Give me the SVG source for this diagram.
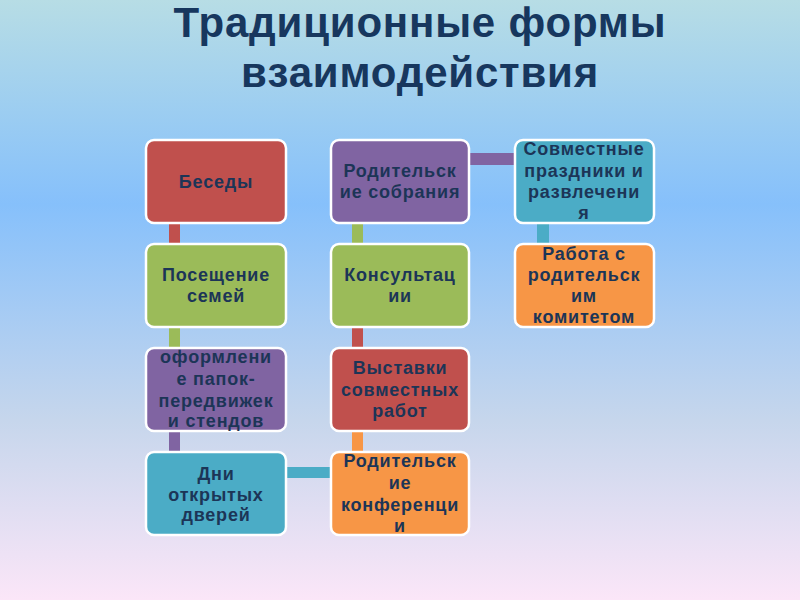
<svg xmlns="http://www.w3.org/2000/svg" width="800" height="600" viewBox="0 0 800 600">
<defs>
<linearGradient id="bg" x1="0" y1="0" x2="0" y2="1">
<stop offset="0" stop-color="#b7dde5"/>
<stop offset="0.34" stop-color="#86c0fb"/>
<stop offset="0.7" stop-color="#c6d6ec"/>
<stop offset="1" stop-color="#fbe6f8"/>
</linearGradient>
<style>
.box{stroke:#ffffff;stroke-width:2.5}
.t{font-family:"Liberation Sans",Arial,sans-serif;font-weight:bold;font-size:18px;fill:#1c3557;text-anchor:middle;letter-spacing:0.8px}
.title{font-family:"Liberation Sans",Arial,sans-serif;font-weight:bold;font-size:42px;fill:#17375e;text-anchor:middle;letter-spacing:0.8px}
.red{fill:#c0504d}.green{fill:#9bbb59}.purple{fill:#8064a2}.teal{fill:#4bacc6}.orange{fill:#f79646}
</style>
</defs>
<rect width="800" height="600" fill="url(#bg)"/>
<g id="title">
<text class="title" x="420" y="37">Традиционные формы</text>
<text class="title" x="420" y="87">взаимодействия</text>
</g>
<g id="connectors">
<rect class="red" x="169" y="222" width="11" height="23"/>
<rect class="green" x="169" y="326" width="11" height="23"/>
<rect class="purple" x="169" y="430" width="11" height="23"/>
<rect class="teal" x="284" y="467" width="48" height="11"/>
<rect class="orange" x="352" y="430" width="11" height="23"/>
<rect class="red" x="352" y="326" width="11" height="23"/>
<rect class="green" x="352" y="222" width="11" height="23"/>
<rect class="purple" x="468" y="153" width="48" height="12"/>
<rect class="teal" x="537" y="222" width="12" height="23"/>
</g>
<g id="n1"><rect class="box red" x="146" y="140" width="140" height="83" rx="8"/>
<text class="t" x="216" y="188">Беседы</text></g>
<g id="n2"><rect class="box green" x="146" y="244" width="140" height="83" rx="8"/>
<text class="t" x="216" y="281">Посещение</text><text class="t" x="216" y="302">семей</text></g>
<g id="n3"><rect class="box purple" x="146" y="348" width="140" height="83" rx="8"/>
<text class="t" x="216" y="363">оформлени</text><text class="t" x="216" y="385">е папок-</text><text class="t" x="216" y="407">передвижек</text><text class="t" x="216" y="427">и стендов</text></g>
<g id="n4"><rect class="box teal" x="146" y="452" width="140" height="83" rx="8"/>
<text class="t" x="216" y="480">Дни</text><text class="t" x="216" y="501">открытых</text><text class="t" x="216" y="521">дверей</text></g>
<g id="n5"><rect class="box orange" x="331" y="452" width="138" height="83" rx="8"/>
<text class="t" x="400" y="467">Родительск</text><text class="t" x="400" y="489">ие</text><text class="t" x="400" y="511">конференци</text><text class="t" x="400" y="532">и</text></g>
<g id="n6"><rect class="box red" x="331" y="348" width="138" height="83" rx="8"/>
<text class="t" x="400" y="374">Выставки</text><text class="t" x="400" y="396">совместных</text><text class="t" x="400" y="417">работ</text></g>
<g id="n7"><rect class="box green" x="331" y="244" width="138" height="83" rx="8"/>
<text class="t" x="400" y="281">Консультац</text><text class="t" x="400" y="302">ии</text></g>
<g id="n8"><rect class="box purple" x="331" y="140" width="138" height="83" rx="8"/>
<text class="t" x="400" y="177">Родительск</text><text class="t" x="400" y="198">ие собрания</text></g>
<g id="n9"><rect class="box teal" x="515" y="140" width="139" height="83" rx="8"/>
<text class="t" x="584" y="155">Совместные</text><text class="t" x="584" y="177">праздники и</text><text class="t" x="584" y="198">развлечени</text><text class="t" x="584" y="219">я</text></g>
<g id="n10"><rect class="box orange" x="515" y="244" width="139" height="83" rx="8"/>
<text class="t" x="584" y="260">Работа с</text><text class="t" x="584" y="281">родительск</text><text class="t" x="584" y="302">им</text><text class="t" x="584" y="323">комитетом</text></g>
</svg>
